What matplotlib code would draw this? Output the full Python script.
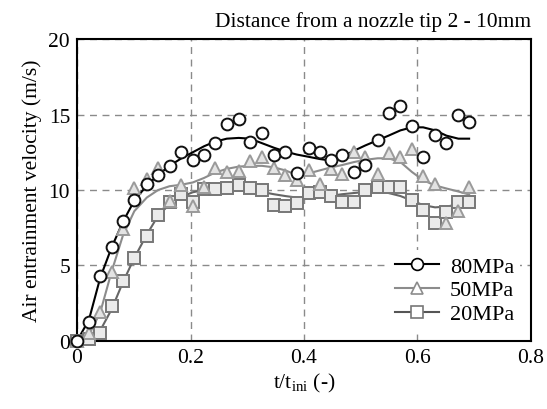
import matplotlib
matplotlib.use("Agg")
import matplotlib.pyplot as plt
import numpy as np

plt.rcParams['font.family'] = ['Liberation Serif', 'DejaVu Serif']
plt.rcParams['mathtext.fontset'] = 'custom'
plt.rcParams['mathtext.rm'] = 'Liberation Serif'

# ---------------------------------------------------------------
# data (t/t_ini, velocity m/s)
# ---------------------------------------------------------------
t = [0.000, 0.021, 0.041, 0.061, 0.081, 0.101, 0.123, 0.143, 0.163, 0.184,
     0.204, 0.224, 0.243, 0.264, 0.285, 0.305, 0.326, 0.347, 0.367, 0.387,
     0.408, 0.428, 0.448, 0.467, 0.488, 0.508, 0.530, 0.549, 0.570, 0.590,
     0.610, 0.631, 0.651, 0.672, 0.691]

v80 = [0.0, 1.28, 4.28, 6.2, 7.93, 9.34, 10.4, 11.0, 11.57, 12.54,
       11.99, 12.34, 13.09, 14.4, 14.7, 13.2, 13.75, 12.3, 12.54, 11.13,
       12.76, 12.54, 11.99, 12.3, 11.17, 11.66, 13.33, 15.08, 15.58, 14.22,
       12.2, 13.64, 13.1, 14.97, 14.48]

v50 = [0.0, 0.5, 1.9, 4.55, 7.4, 10.1, 10.75, 11.44, 9.3, 10.33,
       8.96, 10.2, 11.45, 11.2, 11.28, 11.92, 12.2, 11.47, 10.97, 10.64,
       11.3, 10.4, 11.39, 11.06, 12.54, 12.16, 11.06, 12.45, 12.16, 12.7,
       10.9, 10.4, 7.8, 8.63, 10.18]

v20 = [0.0, 0.13, 0.53, 2.34, 4.0, 5.47, 6.97, 8.37, 9.18, 9.73,
       9.2, 10.07, 10.05, 10.12, 10.3, 10.12, 10.0, 9.0, 8.94, 9.16,
       9.78, 9.85, 9.62, 9.23, 9.23, 10.0, 10.18, 10.18, 10.18, 9.36,
       8.7, 7.79, 8.56, 9.18, 9.18]

# smoothed trend lines (also)
fit80 = [0.0, 1.4, 4.2, 6.2, 7.9, 9.3, 10.3, 11.0, 11.6, 12.1,
         12.5, 12.9, 13.2, 13.4, 13.45, 13.4, 13.1, 12.8, 12.55, 12.35,
         12.2, 12.05, 11.95, 12.2, 12.6, 12.95, 13.3, 13.6, 13.95, 14.15,
         14.15, 13.95, 13.6, 13.4, 13.4]

fit50 = [0.0, 0.4, 1.9, 4.6, 7.0, 8.6, 9.5, 10.0, 10.25, 10.35,
         10.5, 10.8, 11.15, 11.4, 11.55, 11.6, 11.6, 11.5, 11.3, 11.0,
         11.1, 11.3, 11.5, 11.65, 11.85, 12.0, 12.1, 12.1, 11.85, 11.2,
         10.65, 10.3, 10.1, 9.9, 9.7]

fit20 = [0.0, 0.1, 0.7, 2.1, 3.9, 5.5, 7.05, 8.3, 9.05, 9.55,
         9.85, 10.0, 10.07, 10.08, 10.07, 10.0, 9.87, 9.72, 9.6, 9.5,
         9.45, 9.5, 9.62, 9.72, 9.8, 9.87, 9.89, 9.8, 9.6, 9.3,
         9.0, 8.85, 8.9, 9.05, 9.18]

labels = ['80MPa', '50MPa', '20MPa']

# ---------------------------------------------------------------
# plot
# ---------------------------------------------------------------
fig = plt.figure(figsize=(5.47, 4.10), dpi=100)
ax = fig.add_axes([0.1408, 0.1659, 0.9707 - 0.1408, 0.9024 - 0.1659])

# trend lines
ax.plot(t, fit80, color='black', lw=1.5, zorder=3)
ax.plot(t, fit50, color='#8c8c8c', lw=1.5, zorder=3)
ax.plot(t, fit20, color='#666666', lw=1.5, zorder=3)

# markers
ax.plot(t, v20, ls='none', marker='s', ms=8, mfc='#ebebeb', mec='#777777',
        mew=1.4, zorder=4, clip_on=False)
ax.plot(t, v50, ls='none', marker='^', ms=9, mfc='#e3e3e3', mec='#9a9a9a',
        mew=1.4, zorder=5, clip_on=False)
ax.plot(t, v80, ls='none', marker='o', ms=8.5, mfc='white', mec='#111111',
        mew=1.4, zorder=6, clip_on=False)

# legend handles: line with one marker in the middle
h80, = ax.plot([], [], color='black', lw=1.5, marker='o', ms=8.5, mfc='white',
               mec='black', mew=1.2)
h50, = ax.plot([], [], color='#8c8c8c', lw=1.5, marker='^', ms=9,
               mfc='white', mec='#8c8c8c', mew=1.2)
h20, = ax.plot([], [], color='#555555', lw=1.5, marker='s', ms=8,
               mfc='white', mec='#777777', mew=1.2)
leg = ax.legend([h80, h50, h20], labels, loc='lower right', fontsize=16,
                frameon=True, fancybox=False, edgecolor='none',
                facecolor='white', framealpha=1, handlelength=2.0,
                handletextpad=0.5, labelspacing=0.15, borderpad=0.25,
                borderaxespad=0.5, numpoints=1)
leg.set_zorder(10)

# axes
ax.set_xlim(0, 0.8)
ax.set_ylim(0, 20)
ax.set_xticks([0, 0.2, 0.4, 0.6, 0.8])
ax.set_xticklabels(['0', '0.2', '0.4', '0.6', '0.8'])
ax.set_yticks([0, 5, 10, 15, 20])
ax.tick_params(length=0, labelsize=15.5, pad=5)
ax.grid(True, ls=(0, (5, 4)), color='#8a8a8a', lw=1.0)
ax.set_axisbelow(True)
for s in ax.spines.values():
    s.set_linewidth(1.5)
    s.set_color('black')

ax.set_xlabel(r't/t$_\mathregular{ini}$ (-)', fontsize=15.5, labelpad=3)
ax.set_ylabel('Air entrainment velocity (m/s)', fontsize=15.5, labelpad=5)
ax.text(1.0, 1.025, 'Distance from a nozzle tip 2 - 10mm', transform=ax.transAxes,
        ha='right', va='bottom', fontsize=15.5)

fig.savefig('out.png', dpi=100)
